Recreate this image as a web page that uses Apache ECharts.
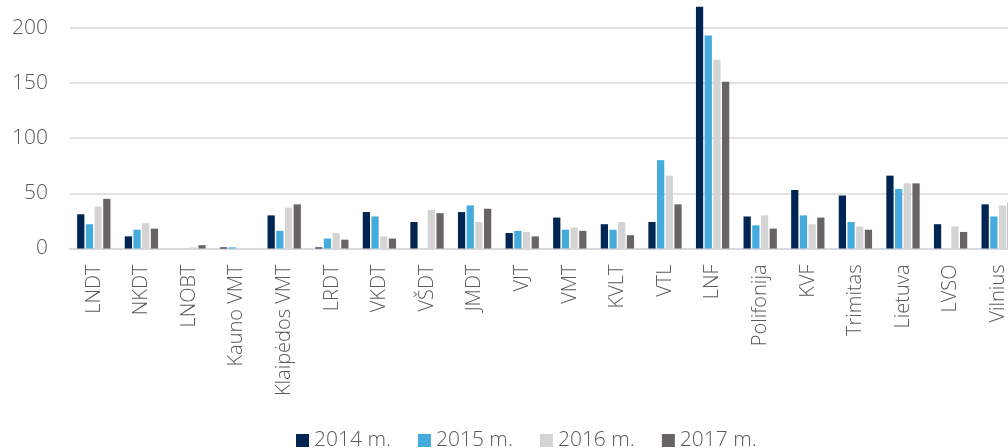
<!DOCTYPE html>
<html>
<head>
<meta charset="utf-8">
<script src="https://cdn.jsdelivr.net/npm/echarts@6/dist/echarts.min.js"></script>
<style>
html,body{margin:0;padding:0;background:#fff;}
#chart{width:1008px;height:448px;}
</style>
</head>
<body>
<div id="chart"></div>
<script>
const categories = ["LNDT","NKDT","LNOBT","Kauno VMT","Klaipėdos VMT","LRDT","VKDT","VŠDT","JMDT","VJT","VMT","KVLT","VTL","LNF","Polifonija","KVF","Trimitas","Lietuva","LVSO","Vilnius"];
const seriesNames = ["2014 m.","2015 m.","2016 m.","2017 m."];
const v2014 = [31,11,0,1,30,1,33,24,33,14,28,22,24,219,29,53,48,66,22,40];
const v2015 = [22,17,0,1,16,9,29,0,39,16,17,17,80,193,21,30,24,54,0,29];
const v2016 = [38,23,1,0,37,14,11,35,24,15,19,24,66,171,30,22,20,59,20,39];
const v2017 = [45,18,3,0,40,8,9,32,36,11,16,12,40,151,18,28,17,59,15,42];
const yTicks = [0,50,100,150,200];
const colors = ["#012552","#45aadc","#d4d4d4","#676463"];

const font = "'Open Sans', 'Noto Sans', sans-serif";
const chart = echarts.init(document.getElementById('chart'), null, {renderer:'canvas'});
const data = [v2014, v2015, v2016, v2017];
chart.setOption({
  animation:false,
  color: colors,
  grid:{left:70, right:-14, top:-27.5, bottom:199.5, containLabel:false, outerBoundsMode:'none'},
  legend:{
    data: seriesNames,
    left:296, top:430, padding:0,
    icon:'rect', itemWidth:13, itemHeight:13, itemGap:27,
    textStyle:{fontFamily:font, fontWeight:300, fontSize:21, color:'#595959', lineHeight:20}
  },
  xAxis:{
    type:'category', data:categories,
    axisTick:{show:false},
    axisLine:{lineStyle:{color:'#d9d9d9', width:2}},
    axisLabel:{interval:0, rotate:90, margin:16, fontFamily:font, fontWeight:300, fontSize:20, color:'#595959'}
  },
  yAxis:{
    type:'value', min:0, max:250, interval:50,
    axisLine:{show:false}, axisTick:{show:false},
    splitLine:{lineStyle:{color:'#d9d9d9', width:1.5}},
    axisLabel:{margin:22, fontFamily:font, fontWeight:300, fontSize:21, color:'#595959',
      formatter: v => yTicks.includes(v) ? String(v) : ''}
  },
  series: seriesNames.map((n,i)=>({
    name:n, type:'bar', data:data[i],
    barGap:'20%', barCategoryGap:'30%',
    itemStyle:{color:colors[i]}
  }))
});
</script>
</body>
</html>
